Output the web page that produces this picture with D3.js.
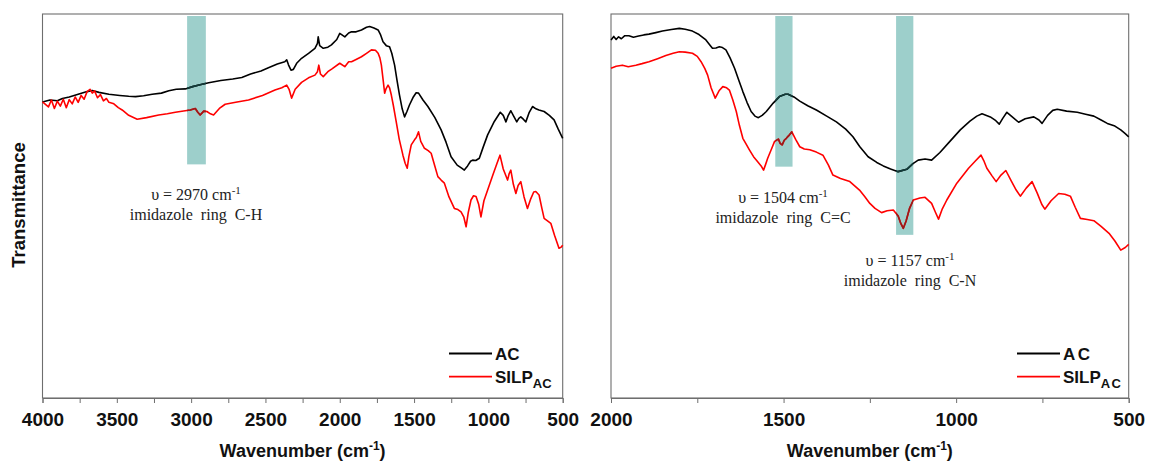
<!DOCTYPE html>
<html>
<head>
<meta charset="utf-8">
<script src="https://cdn.jsdelivr.net/npm/d3@7/dist/d3.min.js"></script>
<style>
  html, body { margin: 0; padding: 0; background: #fff; }
  svg { display: block; }
  .tick text { font-family: "Liberation Sans", Arial, sans-serif; font-weight: bold; font-size: 19px; fill: #111; }
</style>
</head>
<body>
<svg id="chart" width="1150" height="461"></svg>
<script>
// ---------------- DATA ----------------
// Left panel (4000–500 cm-1)
const leftWave_AC = [4000,3950,3900,3866,3820,3760,3700,3665,3620,3553,3480,3420,3374,3320,3262,3200,3150,3100,3039,2990,2940,2882,2800,2720,2659,2600,2530,2480,2420,2370,2357,2345,2328,2312,2290,2257,2210,2167,2150,2145,2135,2111,2080,2056,2020,2000,1985,1966,1940,1921,1890,1854,1820,1799,1770,1742,1725,1709,1687,1665,1650,1631,1615,1598,1580,1564,1548,1531,1505,1486,1470,1440,1407,1360,1318,1285,1251,1210,1180,1162,1140,1120,1106,1085,1061,1035,1005,960,920,900,882,866,849,830,809,795,782,765,748,725,703,680,660,625,590,558,530,500];
const leftT_AC = [77.3,77.8,77.6,78.2,78.6,79.3,80.0,80.3,79.8,79.3,79.0,78.8,78.7,78.9,79.3,79.6,80.2,80.6,80.7,81.3,81.8,82.3,82.9,83.3,83.7,84.6,85.4,86.2,87.2,87.8,88.3,87.0,85.6,85.8,87.4,88.7,90.0,91.3,92.6,94.3,92.0,91.3,91.6,92.2,93.6,95.2,94.8,94.3,95.3,95.6,95.6,96.1,96.8,97.0,96.6,96.1,94.8,93.0,92.0,91.7,90.0,86.9,83.0,79.1,75.5,73.4,74.8,76.5,78.6,79.7,79.6,77.8,76.1,73.2,70.0,66.8,63.0,60.8,60.0,59.5,60.6,61.8,62.1,62.0,62.6,65.5,68.7,72.2,74.6,73.8,72.1,73.8,75.0,73.6,72.1,73.0,73.4,72.8,72.1,74.6,76.1,75.5,75.2,74.8,73.8,72.6,70.2,67.8];

const leftWave_SILP = [4000,3960,3940,3920,3900,3880,3860,3840,3820,3800,3780,3760,3740,3720,3700,3680,3665,3650,3630,3610,3590,3570,3553,3520,3490,3464,3420,3363,3300,3218,3160,3106,3040,3006,2972,2955,2939,2915,2894,2870,2849,2810,2771,2700,2614,2520,2436,2390,2357,2340,2324,2300,2257,2210,2167,2150,2141,2130,2111,2080,2050,2000,1966,1940,1921,1890,1854,1820,1787,1760,1742,1730,1720,1708,1698,1688,1675,1665,1653,1640,1620,1600,1575,1560,1546,1535,1519,1497,1485,1470,1455,1430,1405,1385,1360,1340,1318,1296,1265,1229,1205,1184,1165,1150,1135,1117,1100,1083,1065,1050,1030,1005,970,940,922,900,871,860,849,832,815,800,782,760,737,715,695,681,659,640,625,600,580,555,525,510,500];
const leftT_SILP = [77.3,76.0,77.8,75.6,77.5,76.2,78.0,75.8,77.9,76.8,78.6,77.2,79.0,78.0,80.0,80.6,79.6,80.2,78.4,79.2,77.6,78.2,77.2,76.8,75.8,75.2,73.8,72.8,73.2,73.9,74.2,74.6,75.0,75.2,75.6,74.6,73.9,74.9,74.8,74.2,73.9,75.6,76.7,77.2,77.8,79.0,80.4,81.0,81.7,80.5,78.3,80.6,82.4,83.6,84.3,85.2,86.9,84.6,83.9,85.2,86.0,87.4,86.5,87.8,87.8,88.4,89.1,90.0,90.9,90.8,90.0,88.8,86.9,83.0,79.6,80.8,81.7,81.0,79.1,76.5,72.1,67.6,63.4,61.3,60.0,63.0,66.1,67.4,68.0,69.5,67.0,65.2,64.6,63.9,60.5,57.8,56.9,56.1,52.5,49.5,49.2,48.6,47.2,44.7,48.5,51.7,52.8,52.6,50.5,47.3,51.5,54.3,58.2,61.5,63.4,59.8,56.9,58.6,59.5,55.8,53.4,55.5,56.5,52.5,49.5,52.0,53.8,53.9,53.0,49.5,46.9,46.2,45.6,42.5,39.1,39.4,39.9];

// Right panel (2000–500 cm-1)
const rightWave_AC = [2000,1992,1985,1978,1970,1960,1948,1935,1920,1905,1890,1870,1851,1825,1802,1785,1764,1745,1725,1712,1706,1696,1686,1677,1667,1655,1642,1630,1618,1606,1594,1583,1573,1562,1550,1530,1512,1495,1487,1470,1453,1430,1405,1375,1347,1320,1299,1279,1255,1230,1211,1190,1168,1143,1125,1110,1090,1071,1047,1020,988,960,940,925,901,885,875,865,853,840,819,800,775,760,751,735,720,707,680,649,625,601,580,562,540,523,510,500];
const rightT_AC = [93.5,94.4,93.6,94.3,93.8,94.6,94.6,94.2,94.5,94.8,95.0,95.4,95.8,96.2,96.5,96.3,95.8,94.9,93.5,92.0,91.3,91.4,91.7,91.5,90.9,88.8,86.1,83.0,80.0,77.2,74.8,73.6,73.2,73.8,74.8,77.0,78.7,79.3,79.3,78.6,77.5,76.3,75.2,73.6,72.1,70.2,68.2,65.6,63.0,61.5,60.6,59.8,59.1,59.7,61.2,62.1,62.4,62.1,64.1,66.8,70.0,72.3,73.6,74.2,73.4,72.4,71.5,73.0,74.6,73.6,72.0,72.9,73.4,72.6,71.7,73.8,75.1,75.4,74.9,74.6,74.1,73.6,72.6,71.7,71.0,70.0,69.0,68.2];

const rightWave_SILP = [2000,1985,1967,1950,1928,1910,1890,1865,1841,1820,1802,1785,1764,1750,1739,1728,1720,1710,1698,1687,1676,1665,1657,1647,1637,1628,1618,1608,1599,1587,1575,1565,1558,1552,1546,1535,1526,1515,1510,1504,1498,1492,1485,1476,1465,1453,1440,1424,1405,1386,1370,1357,1335,1308,1280,1265,1250,1235,1216,1200,1182,1168,1160,1153,1145,1135,1124,1105,1090,1071,1060,1051,1040,1027,998,964,945,928,920,911,896,884,870,856,840,826,814,797,780,765,752,743,725,703,685,669,655,640,620,601,580,557,540,523,510,500];
const rightT_SILP = [86.1,86.6,86.9,86.5,86.9,87.3,87.8,88.6,89.4,90.0,90.4,90.3,90.0,89.2,87.8,86.0,84.3,81.0,78.3,80.2,81.3,81.0,80.4,77.8,74.8,71.2,67.8,66.2,64.8,63.0,61.7,60.6,59.5,61.0,62.6,65.0,67.0,67.6,66.5,66.1,67.3,67.8,68.5,69.5,67.5,65.6,65.0,64.8,64.2,63.4,60.8,58.2,57.3,56.5,54.3,52.6,50.8,49.5,48.4,48.9,49.1,47.5,45.5,44.3,46.2,49.5,51.7,52.2,52.4,50.8,48.5,46.7,49.4,51.7,56.1,60.0,61.8,63.4,62.0,60.0,58.0,56.5,58.2,59.4,56.6,54.3,52.7,54.8,56.5,53.5,50.6,49.3,51.5,53.4,53.2,52.7,49.8,46.9,46.6,46.3,44.8,43.0,41.0,38.6,39.3,40.1];

// Axis ticks
const leftMajorTicks = [4000,3500,3000,2500,2000,1500,1000,500];
const leftMinorTicks = [3750,3250,2750,2250,1750,1250,750];
const rightMajorTicks = [2000,1500,1000,500];
const rightMinorTicks = [1750,1250,750];

// Highlight bands [from, to] wavenumber, bottom (transmittance units)
const leftBands = [[3027, 2901, 61.0]];
const rightBands = [[1524, 1474, 60.4], [1174, 1124, 42.6]];

// Annotations: [wavenumber, label, bond]
const leftNotes = [[2970, "2970", "C-H"]];
const rightNotes = [[1504, "1504", "C=C"], [1157, "1157", "C-N"]];

const seriesNames = ["AC", "SILP"];
const seriesColors = ["#000000", "#ff0000"];
const seriesColorsInBand = ["#123c3a", "#9a1a1a"];

// ---------------- DRAW ----------------
const svg = d3.select("#chart");
const defs = svg.append("defs");
const TOP = 15, BOTTOM = 398;

const panels = [
  { x0: 42.5, x1: 562.7, domain: [4000, 500], waves: [leftWave_AC, leftWave_SILP], vals: [leftT_AC, leftT_SILP],
    major: leftMajorTicks, minor: leftMinorTicks, bands: leftBands,
    notes: leftNotes, notePos: [[196, 200, 220]], legendX: 449, legendSpacing: 0 },
  { x0: 611, x1: 1128.7, domain: [2000, 500], waves: [rightWave_AC, rightWave_SILP], vals: [rightT_AC, rightT_SILP],
    major: rightMajorTicks, minor: rightMinorTicks, bands: rightBands,
    notes: rightNotes, notePos: [[783, 203, 223], [910, 266, 286]], legendX: 1017, legendSpacing: 1.2 }
];

panels.forEach((p, pi) => {
  const x = d3.scaleLinear().domain(p.domain).range([p.x0, p.x1]);
  const y = d3.scaleLinear().domain([0, 100]).range([BOTTOM, TOP]);
  const g = svg.append("g");

  // frame
  g.append("rect").attr("x", p.x0).attr("y", TOP - 1).attr("width", p.x1 - p.x0).attr("height", BOTTOM - TOP + 1)
    .attr("fill", "none").attr("stroke", "#6e6e6e").attr("stroke-width", 1.1);

  // bands (beneath lines)
  const clipId = "bandclip" + pi;
  const clip = defs.append("clipPath").attr("id", clipId);
  p.bands.forEach(b => {
    const bx = x(b[0]), bw = x(b[1]) - x(b[0]), by = y(100) + 1, bh = y(b[2]) - y(100) - 1;
    g.append("rect").attr("x", bx).attr("width", bw).attr("y", by).attr("height", bh).attr("fill", "#9dcfcb");
    clip.append("rect").attr("x", bx).attr("width", bw).attr("y", by).attr("height", bh);
  });

  // lines
  const line = d3.line().x(d => x(d[0])).y(d => y(d[1]));
  [0, 1].forEach(i => {
    const pts = p.waves[i].map((w, k) => [w, p.vals[i][k]]);
    g.append("path").datum(pts).attr("d", line).attr("fill", "none")
      .attr("stroke", seriesColors[i]).attr("stroke-width", 1.6).attr("stroke-linejoin", "round");
    // darker tint where the line passes through a band
    g.append("path").datum(pts).attr("d", line).attr("fill", "none").attr("clip-path", `url(#${clipId})`)
      .attr("stroke", seriesColorsInBand[i]).attr("stroke-width", 1.6).attr("stroke-linejoin", "round");
  });

  // axis
  const ax = d3.axisBottom(x).tickValues(p.major).tickSize(5).tickPadding(10).tickFormat(d3.format("d"));
  const axG = g.append("g").attr("transform", `translate(0,${BOTTOM})`).call(ax);
  axG.select(".domain").attr("stroke", "#6e6e6e");
  axG.selectAll(".tick line").attr("stroke", "#6e6e6e");
  const axm = d3.axisBottom(x).tickValues(p.minor).tickSize(5).tickFormat("");
  const axmG = g.append("g").attr("transform", `translate(0,${BOTTOM})`).call(axm);
  axmG.select(".domain").remove();
  axmG.selectAll(".tick line").attr("stroke", "#6e6e6e");

  // x title
  const cx = (p.x0 + p.x1) / 2;
  const t = g.append("text").attr("x", cx).attr("y", 457).attr("text-anchor", "middle")
    .attr("font-family", "Liberation Sans, Arial, sans-serif").attr("font-weight", "bold").attr("font-size", 18).attr("fill", "#111");
  t.append("tspan").text("Wavenumber (cm");
  t.append("tspan").text("-1").attr("font-size", 12).attr("dy", -7);
  t.append("tspan").text(")").attr("dy", 7);

  // annotations
  p.notes.forEach((n, k) => {
    const [nx, y1, y2] = p.notePos[k];
    const a = g.append("text").attr("x", nx).attr("y", y1).attr("text-anchor", "middle")
      .attr("font-family", "Liberation Serif, Times New Roman, serif").attr("font-size", 16).attr("fill", "#222");
    a.append("tspan").text("\u03c5 = " + n[1] + " cm");
    a.append("tspan").text("-1").attr("font-size", 11).attr("dy", -6);
    g.append("text").attr("x", nx).attr("y", y2).attr("text-anchor", "middle")
      .attr("font-family", "Liberation Serif, Times New Roman, serif").attr("font-size", 16).attr("fill", "#222")
      .style("white-space", "pre").text("imidazole  ring  " + n[2]);
  });

  // legend
  const ly = [353.5, 376.7];
  seriesNames.forEach((nm, i) => {
    g.append("line").attr("x1", p.legendX).attr("x2", p.legendX + 43).attr("y1", ly[i]).attr("y2", ly[i])
      .attr("stroke", seriesColors[i]).attr("stroke-width", 1.8);
    const lt = g.append("text").attr("x", p.legendX + 46).attr("y", ly[i] + 6.5)
      .attr("font-family", "Liberation Sans, Arial, sans-serif").attr("font-weight", "bold").attr("font-size", 17)
      .attr("letter-spacing", i === 0 ? p.legendSpacing * 2 : 0).attr("fill", "#111");
    if (i === 0) {
      lt.text(nm);
    } else {
      lt.append("tspan").text(nm);
      lt.append("tspan").text("AC").attr("font-size", 13).attr("dy", 5).attr("letter-spacing", p.legendSpacing);
    }
  });
});

// y title
svg.append("text").attr("transform", "translate(25,205) rotate(-90)").attr("text-anchor", "middle")
  .attr("font-family", "Liberation Sans, Arial, sans-serif").attr("font-weight", "bold").attr("font-size", 18.5).attr("fill", "#111")
  .text("Transmittance");
</script>
</body>
</html>
